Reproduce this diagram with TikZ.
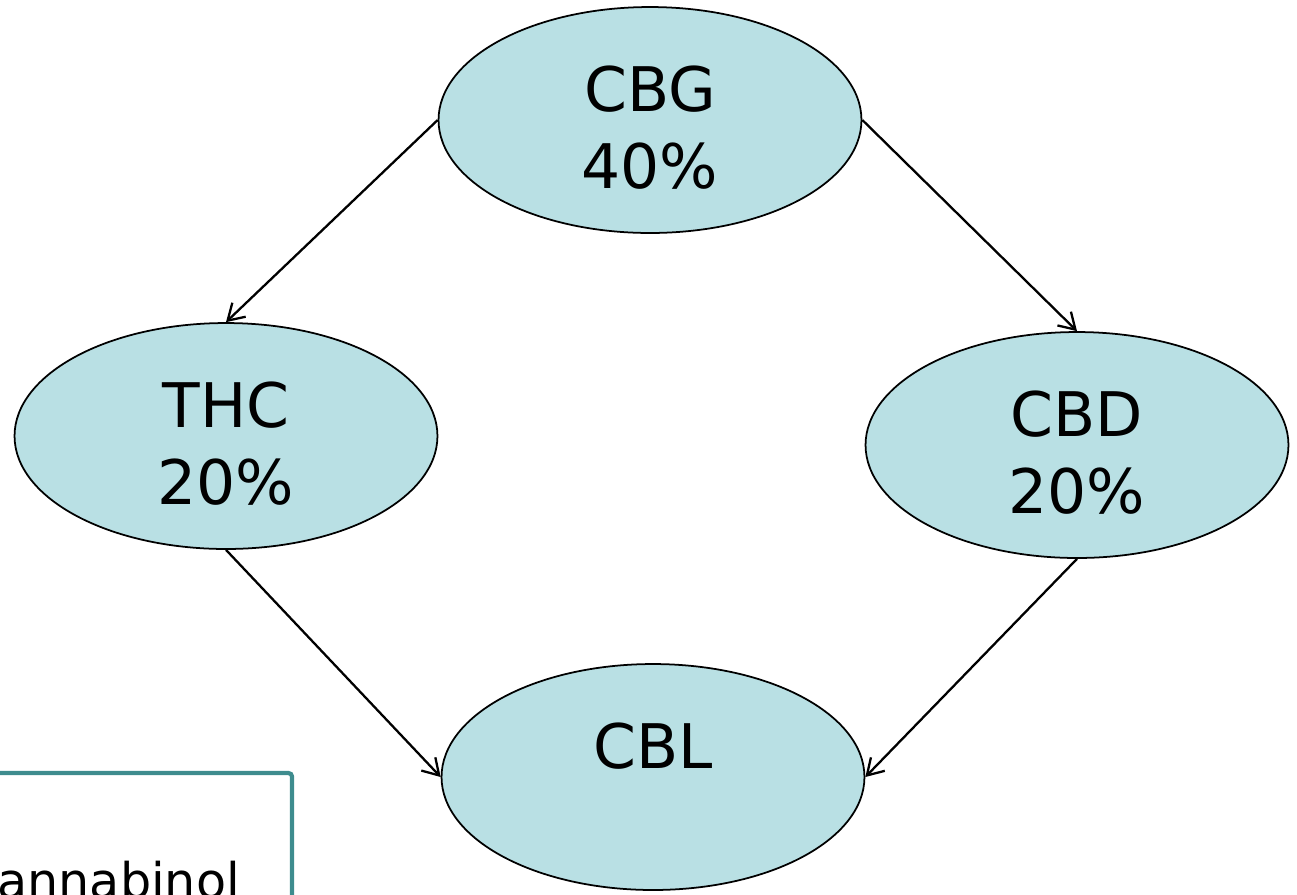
\documentclass[tikz,border=0pt]{standalone}
\usepackage{fontspec}
\setmainfont{DejaVu Sans}
\usetikzlibrary{arrows.meta,shapes.geometric}
\definecolor{bubblefill}{RGB}{185,224,228}
\definecolor{frameteal}{RGB}{62,140,142}

\begin{document}
\begin{tikzpicture}[
  x=0.02cm,y=-0.02cm,
  font=\fontsize{35}{44}\selectfont,
  bubble/.style={draw,line width=1pt,ellipse,fill=bubblefill,
    minimum width=8.46cm,minimum height=4.52cm,inner sep=0pt,text height=79pt},
  to/.style={-{Straight Barb[length=9pt,width=11pt]},line width=1.3pt},
  every node/.style={align=center}]

  \useasboundingbox (0,0) rectangle (1297,894);
  \clip (0,0) rectangle (1297,894);

  % Position the nodes
  \node[bubble] (CBG) at (650,120) {CBG\\40\%};
  \node[bubble] (THC) at (226,436) {THC\\20\%};
  \node[bubble] (CBD) at (1077,445) {CBD\\20\%};
  \node[bubble] (CBL) at (653,777) {CBL\\\phantom{0}};

  % Legend box, cut by the edge of the picture
  \draw[frameteal,line width=2.4pt,rounded corners=2pt] (-10,773) rectangle (292,960);
  \node[anchor=base west,inner sep=0pt,font=\fontsize{28}{34}\selectfont] (legend) at (-3,898) {annabinol};

  % Draw the arrows between the nodes
  \draw[to] (CBG.west) -- (THC.north);
  \draw[to] (CBG.east) -- (CBD.north);
  \draw[to] (THC.south) -- (CBL.west);
  \draw[to] (CBD.south) -- (CBL.east);
\end{tikzpicture}
\end{document}
